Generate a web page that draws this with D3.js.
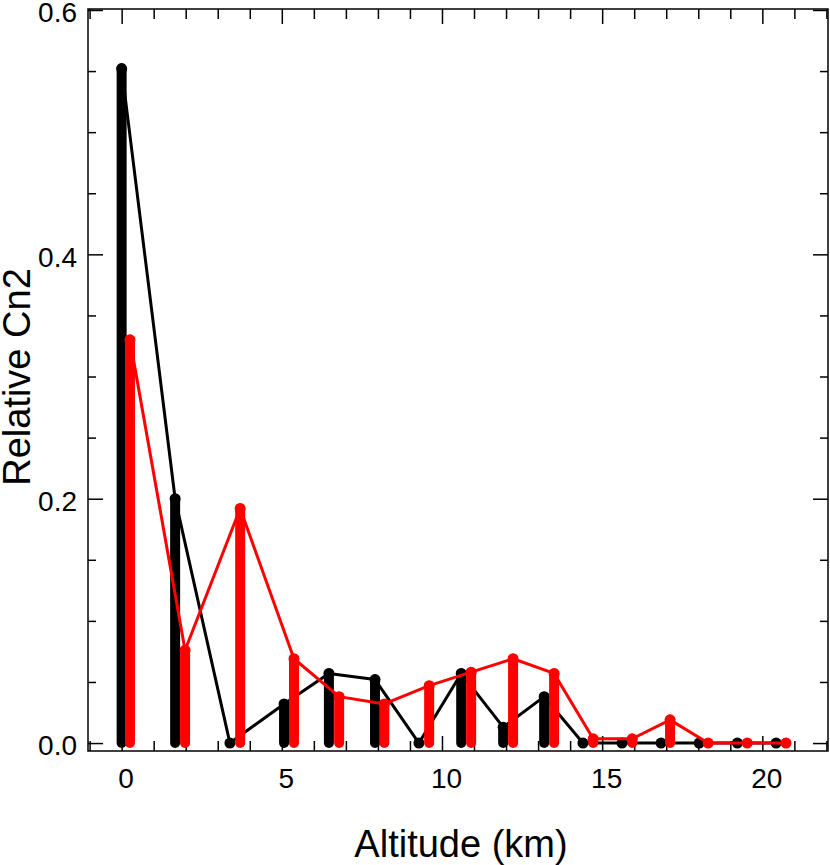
<!DOCTYPE html>
<html>
<head>
<meta charset="utf-8">
<script src="https://cdn.jsdelivr.net/npm/d3@7"></script>
<style>
  body { margin: 0; background: #fff; }
  svg text { font-family: "Liberation Sans", Arial, Helvetica, sans-serif; fill: #000; }
</style>
</head>
<body>
<div id="chart"></div>
<script>
// altitudes (km) and relative Cn2
const blackAlt = [0, 1.67, 3.38, 5.07, 6.47, 7.91, 9.28, 10.6, 11.91, 13.19, 14.4, 15.62, 16.84, 18.03, 19.22, 20.43]
const blackCn2 = [0.552, 0.2, 0, 0.032, 0.057, 0.052, 0, 0.057, 0.013, 0.038, 0, 0, 0, 0, 0, 0]
const redAlt = [0.26, 1.98, 3.7, 5.38, 6.79, 8.2, 9.6, 10.91, 12.22, 13.5, 14.72, 15.94, 17.12, 18.31, 19.53, 20.74]
const redCn2 = [0.33, 0.076, 0.192, 0.069, 0.038, 0.032, 0.047, 0.058, 0.069, 0.057, 0.0035, 0.0035, 0.019, 0, 0, 0]

const xMajor = [0, 5, 10, 15, 20]
const xMinor = d3.range(-1, 23).filter(d => d % 5 !== 0)
const yMajor = [0, 0.2, 0.4, 0.6]
const yMinor = [0.05, 0.1, 0.15, 0.25, 0.3, 0.35, 0.45, 0.5, 0.55]

const width = 830, height = 865
const margin = {top: 9, right: 2, bottom: 114, left: 88}

const svg = d3.select("#chart").append("svg")
  .attr("width", width)
  .attr("height", height)

const x = d3.scaleLinear().domain([-1.05, 22.05]).range([margin.left, width - margin.right])
const y = d3.scaleLinear().domain([-0.0065, 0.6008]).range([height - margin.bottom, margin.top])

const x0 = x.range()[0], x1 = x.range()[1]
const y0 = y.range()[0], y1 = y.range()[1]

// axes: ticks point into the plot on all four sides
const drawAxis = (axis, tx, ty, labels) => {
  const g = svg.append("g")
    .attr("transform", "translate(" + tx + "," + ty + ")")
    .call(axis)
  g.select(".domain").remove()
  g.selectAll("line").attr("stroke", "#000").attr("stroke-width", 1.5)
  if (!labels) g.selectAll("text").remove()
  return g
}

let gx = drawAxis(d3.axisBottom(x).tickValues(xMajor).tickSizeInner(-15).tickSizeOuter(0).tickPadding(17).tickFormat(d3.format("d")), 0, y0, true)
gx.selectAll("text").attr("dx", 4).style("font-size", "28px")
drawAxis(d3.axisBottom(x).tickValues(xMinor).tickSizeInner(-10).tickSizeOuter(0), 0, y0, false)
drawAxis(d3.axisTop(x).tickValues(xMajor).tickSizeInner(-15).tickSizeOuter(0), 0, y1, false)
drawAxis(d3.axisTop(x).tickValues(xMinor).tickSizeInner(-10).tickSizeOuter(0), 0, y1, false)

let gy = drawAxis(d3.axisLeft(y).tickValues(yMajor).tickSizeInner(-15).tickSizeOuter(0).tickPadding(11).tickFormat(d3.format(".1f")), x0, 0, true)
gy.selectAll("text").attr("dy", "0.42em").style("font-size", "28px")
drawAxis(d3.axisLeft(y).tickValues(yMinor).tickSizeInner(-8).tickSizeOuter(0), x0, 0, false)
drawAxis(d3.axisRight(y).tickValues(yMajor).tickSizeInner(-15).tickSizeOuter(0), x1, 0, false)
drawAxis(d3.axisRight(y).tickValues(yMinor).tickSizeInner(-8).tickSizeOuter(0), x1, 0, false)

// frame
svg.append("rect")
  .attr("x", x0).attr("y", y1)
  .attr("width", x1 - x0).attr("height", y0 - y1)
  .attr("fill", "none")
  .attr("stroke", "#000")
  .attr("stroke-width", 1.5)

// one series: stems, connecting line, dots
const drawSeries = (alt, cn2, color) => {
  const pts = alt.map((a, i) => ({x: a, v: cn2[i]}))
  const g = svg.append("g")
  g.selectAll("line.stem")
    .data(pts)
    .join("line")
    .attr("class", "stem")
    .attr("x1", d => x(d.x)).attr("x2", d => x(d.x))
    .attr("y1", y(0)).attr("y2", d => y(d.v))
    .attr("stroke", color)
    .attr("stroke-width", 10)
    .attr("stroke-linecap", "round")
  g.append("path")
    .datum(pts)
    .attr("d", d3.line().x(d => x(d.x)).y(d => y(d.v)))
    .attr("fill", "none")
    .attr("stroke", color)
    .attr("stroke-width", 3)
    .attr("stroke-linejoin", "round")
  g.selectAll("circle")
    .data(pts)
    .join("circle")
    .attr("cx", d => x(d.x))
    .attr("cy", d => y(d.v))
    .attr("r", 5.5)
    .attr("fill", color)
}

drawSeries(blackAlt, blackCn2, "#000")
drawSeries(redAlt, redCn2, "#ff0000")

// axis titles
svg.append("text")
  .attr("x", 461).attr("y", 857)
  .attr("text-anchor", "middle")
  .style("font-size", "38px")
  .text("Altitude (km)")

svg.append("text")
  .attr("transform", "translate(30,377) rotate(-90)")
  .attr("text-anchor", "middle")
  .style("font-size", "38px")
  .text("Relative Cn2")
</script>
</body>
</html>
